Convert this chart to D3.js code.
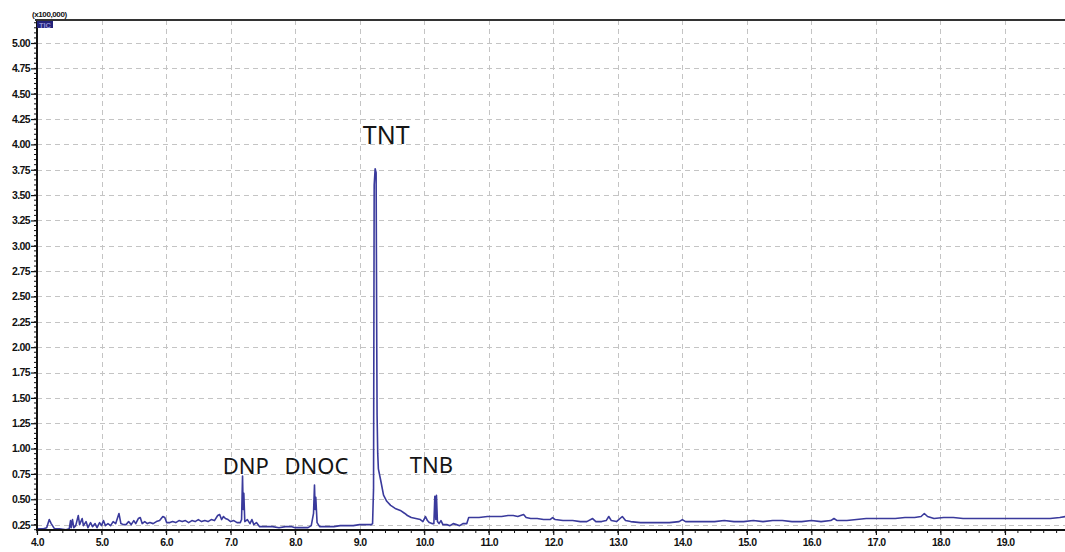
<!DOCTYPE html>
<html>
<head>
<meta charset="utf-8">
<script src="https://cdn.jsdelivr.net/npm/d3@7"></script>
<style>
  html, body { margin: 0; padding: 0; background: #ffffff; }
  svg { display: block; }
</style>
</head>
<body>
<svg id="chart" width="1065" height="552"></svg>
<script>
// ---- data ----
const retentionTimes = [
  4.00, 4.05, 4.10, 4.15, 4.19, 4.22, 4.27, 4.35, 4.45, 4.50,
  4.52, 4.53, 4.55, 4.57, 4.60, 4.64, 4.66, 4.70, 4.72, 4.76,
  4.79, 4.83, 4.86, 4.90, 4.93, 4.97, 5.00, 5.03, 5.06, 5.10,
  5.14, 5.18, 5.22, 5.27, 5.30, 5.34, 5.38, 5.42, 5.46, 5.50,
  5.53, 5.57, 5.60, 5.63, 5.67, 5.71, 5.75, 5.80, 5.85, 5.90,
  5.95, 5.98, 6.01, 6.06, 6.10, 6.15, 6.20, 6.25, 6.30, 6.35,
  6.40, 6.45, 6.50, 6.55, 6.60, 6.65, 6.70, 6.75, 6.80, 6.83,
  6.86, 6.89, 6.92, 6.96, 7.00, 7.05, 7.10, 7.15, 7.17, 7.185,
  7.195, 7.205, 7.22, 7.26, 7.30, 7.33, 7.36, 7.40, 7.45, 7.55,
  7.65, 7.75, 7.85, 7.95, 8.00, 8.10, 8.20, 8.25, 8.285, 8.30,
  8.31, 8.32, 8.34, 8.38, 8.50, 8.60, 8.70, 8.80, 8.90, 9.00,
  9.10, 9.18, 9.20, 9.215, 9.225, 9.24, 9.255, 9.265, 9.27, 9.28,
  9.29, 9.325, 9.37, 9.42, 9.48, 9.55, 9.63, 9.70, 9.74, 9.80,
  9.87, 9.94, 9.98, 10.02, 10.05, 10.08, 10.12, 10.15, 10.165, 10.18,
  10.19, 10.205, 10.23, 10.26, 10.29, 10.35, 10.40, 10.45, 10.50, 10.55,
  10.60, 10.66, 10.69, 10.75, 10.85, 10.98, 11.10, 11.20, 11.30, 11.38,
  11.45, 11.54, 11.58, 11.65, 11.75, 11.85, 11.95, 11.99, 12.03, 12.15,
  12.30, 12.42, 12.52, 12.61, 12.66, 12.75, 12.82, 12.86, 12.90, 12.98,
  13.07, 13.12, 13.20, 13.35, 13.50, 13.65, 13.80, 13.95, 14.00, 14.05,
  14.20, 14.35, 14.50, 14.65, 14.80, 14.95, 15.10, 15.25, 15.40, 15.55,
  15.70, 15.85, 16.00, 16.15, 16.30, 16.35, 16.40, 16.55, 16.70, 16.85,
  17.00, 17.15, 17.30, 17.45, 17.60, 17.70, 17.75, 17.80, 17.90, 18.05,
  18.20, 18.35, 18.50, 18.65, 18.80, 18.95, 19.10, 19.25, 19.40, 19.55,
  19.70, 19.85, 19.94
];
const intensities = [
  0.21, 0.21, 0.21, 0.22, 0.30, 0.26, 0.21, 0.21, 0.20, 0.21,
  0.29, 0.22, 0.30, 0.22, 0.24, 0.34, 0.25, 0.31, 0.24, 0.28,
  0.22, 0.27, 0.23, 0.26, 0.22, 0.27, 0.24, 0.29, 0.24, 0.26,
  0.24, 0.28, 0.26, 0.36, 0.26, 0.25, 0.25, 0.28, 0.25, 0.29,
  0.26, 0.31, 0.32, 0.26, 0.28, 0.26, 0.27, 0.26, 0.28, 0.29,
  0.33, 0.32, 0.27, 0.27, 0.28, 0.27, 0.29, 0.28, 0.29, 0.27,
  0.29, 0.28, 0.30, 0.28, 0.29, 0.28, 0.30, 0.29, 0.34, 0.35,
  0.30, 0.33, 0.31, 0.30, 0.28, 0.29, 0.27, 0.27, 0.30, 0.73,
  0.40, 0.56, 0.28, 0.30, 0.26, 0.30, 0.25, 0.27, 0.23, 0.23,
  0.23, 0.22, 0.23, 0.23, 0.22, 0.22, 0.22, 0.24, 0.36, 0.64,
  0.40, 0.52, 0.27, 0.23, 0.23, 0.23, 0.24, 0.24, 0.24, 0.25,
  0.25, 0.25, 0.26, 0.60, 3.60, 3.76, 3.72, 2.00, 1.33, 0.95,
  0.80, 0.69, 0.54, 0.48, 0.44, 0.41, 0.39, 0.36, 0.34, 0.32,
  0.31, 0.30, 0.28, 0.33, 0.29, 0.27, 0.26, 0.26, 0.53, 0.30,
  0.54, 0.28, 0.26, 0.29, 0.25, 0.25, 0.24, 0.26, 0.25, 0.24,
  0.26, 0.26, 0.32, 0.32, 0.32, 0.33, 0.33, 0.33, 0.34, 0.34,
  0.33, 0.35, 0.32, 0.31, 0.31, 0.30, 0.30, 0.32, 0.30, 0.29,
  0.29, 0.28, 0.28, 0.31, 0.28, 0.28, 0.29, 0.33, 0.29, 0.28,
  0.33, 0.29, 0.28, 0.27, 0.27, 0.27, 0.27, 0.28, 0.30, 0.28,
  0.28, 0.28, 0.28, 0.29, 0.28, 0.28, 0.29, 0.28, 0.29, 0.29,
  0.28, 0.28, 0.29, 0.28, 0.29, 0.31, 0.29, 0.29, 0.30, 0.31,
  0.31, 0.31, 0.31, 0.32, 0.32, 0.33, 0.36, 0.33, 0.31, 0.32,
  0.32, 0.31, 0.31, 0.31, 0.31, 0.31, 0.31, 0.31, 0.31, 0.31,
  0.31, 0.32, 0.33
];
const yTickValues = [0.25, 0.50, 0.75, 1.00, 1.25, 1.50, 1.75, 2.00, 2.25, 2.50,
  2.75, 3.00, 3.25, 3.50, 3.75, 4.00, 4.25, 4.50, 4.75, 5.00];
const xTickValues = [4, 5, 6, 7, 8, 9, 10, 11, 12, 13, 14, 15, 16, 17, 18, 19];
const peakNames = ["DNP", "DNOC", "TNT", "TNB"];
const peakTimes = [7.19, 8.30, 9.24, 10.19];
const peakHeights = [0.73, 0.64, 3.76, 0.54];
const yUnitLabel = "(x100,000)";
const traceLabel = "TIC";

// ---- layout ----
const svg = d3.select("#chart");
const plotL = 37, plotR = 1065, plotT = 20, plotB = 530;

const x = d3.scaleLinear().domain([4.0, 19.93]).range([plotL, plotR]);
const y = d3.scaleLinear().domain([0.197, 5.227]).range([plotB, plotT]);

// gridlines
const grid = svg.append("g");
grid.selectAll("line.h").data(yTickValues).enter().append("line")
  .attr("x1", plotL).attr("x2", plotR)
  .attr("y1", d => Math.round(y(d)) + 0.5).attr("y2", d => Math.round(y(d)) + 0.5)
  .attr("stroke", "#c4c4c4").attr("stroke-width", 1).attr("stroke-dasharray", "5,4");
grid.selectAll("line.v").data(xTickValues.filter(d => d > 4)).enter().append("line")
  .attr("y1", plotT).attr("y2", plotB)
  .attr("x1", d => Math.round(x(d)) + 0.5).attr("x2", d => Math.round(x(d)) + 0.5)
  .attr("stroke", "#c4c4c4").attr("stroke-width", 1).attr("stroke-dasharray", "5,4");

// trace
const pts = retentionTimes.map((t, i) => [t, intensities[i]]);
const line = d3.line().x(d => x(d[0])).y(d => y(d[1])).curve(d3.curveLinear);
svg.append("path").datum(pts)
  .attr("d", line)
  .attr("fill", "none")
  .attr("stroke", "#3a3a9c")
  .attr("stroke-width", 1.6)
  .attr("stroke-linejoin", "round");

// axes
const tickFont = "'Liberation Sans', Arial, sans-serif";
const yAxis = d3.axisLeft(y).tickValues(yTickValues).tickFormat(d3.format(".2f")).tickSize(6).tickPadding(1);
const gy = svg.append("g").attr("transform", `translate(${plotL},0)`).call(yAxis);
gy.select(".domain").remove();
gy.selectAll("text").attr("font-family", tickFont).attr("font-weight", "bold")
  .attr("font-size", 10.5).attr("letter-spacing", "-0.6").attr("fill", "#111");
gy.selectAll(".tick line").attr("stroke", "#111").attr("stroke-width", 1.2);

const yMinor = d3.range(0.20, 5.23, 0.05).map(v => +v.toFixed(2));
svg.append("g").selectAll("line").data(yMinor).enter().append("line")
  .attr("x1", plotL - 3).attr("x2", plotL)
  .attr("y1", d => y(d)).attr("y2", d => y(d))
  .attr("stroke", "#111").attr("stroke-width", 1);

const xAxis = d3.axisBottom(x).tickValues(xTickValues).tickFormat(d3.format(".1f")).tickSize(5).tickPadding(4);
const gx = svg.append("g").attr("transform", `translate(0,${plotB})`).call(xAxis);
gx.select(".domain").remove();
gx.selectAll("text").attr("font-family", tickFont).attr("font-weight", "bold")
  .attr("font-size", 10.5).attr("letter-spacing", "-0.6").attr("fill", "#111");
gx.selectAll(".tick line").attr("stroke", "#111").attr("stroke-width", 1.2);

const xMinor = d3.range(4.0, 19.95, 0.2).map(v => +v.toFixed(1));
svg.append("g").selectAll("line").data(xMinor).enter().append("line")
  .attr("y1", plotB).attr("y2", plotB + 3)
  .attr("x1", d => x(d)).attr("x2", d => x(d))
  .attr("stroke", "#111").attr("stroke-width", 1);

// frame lines
svg.append("line").attr("x1", plotL).attr("x2", plotL).attr("y1", plotT - 1).attr("y2", plotB + 1)
  .attr("stroke", "#111").attr("stroke-width", 2);
svg.append("line").attr("x1", plotL - 1).attr("x2", plotR).attr("y1", plotB).attr("y2", plotB)
  .attr("stroke", "#111").attr("stroke-width", 2);
svg.append("line").attr("x1", plotL - 2).attr("x2", plotR).attr("y1", plotT).attr("y2", plotT)
  .attr("stroke", "#333").attr("stroke-width", 2);

// unit label & trace label
svg.append("text").attr("x", 32).attr("y", 17).text(yUnitLabel)
  .attr("font-family", tickFont).attr("font-weight", "bold").attr("font-size", 8)
  .attr("letter-spacing", "-0.4").attr("fill", "#111");
svg.append("rect").attr("x", 37).attr("y", 21).attr("width", 16).attr("height", 7).attr("fill", "#22227a");
svg.append("text").attr("x", 45).attr("y", 27.5).attr("text-anchor", "middle").text(traceLabel)
  .attr("font-family", tickFont).attr("font-weight", "bold").attr("font-size", 7.5)
  .attr("fill", "#8f8fd6");

// peak annotations
const labelFont = "'Noto Sans', 'Open Sans', sans-serif";
const labelDx = { DNP: 3, DNOC: 2, TNT: 11, TNB: -5 };
const labelY = { DNP: 474, DNOC: 474, TNT: 144, TNB: 473 };
const labelSize = { DNP: 22, DNOC: 22, TNT: 25, TNB: 22 };
svg.append("g").selectAll("text").data(peakNames).enter().append("text")
  .attr("x", (d, i) => x(peakTimes[i]) + labelDx[d])
  .attr("y", d => labelY[d])
  .attr("text-anchor", "middle")
  .attr("font-family", labelFont)
  .attr("font-size", d => labelSize[d])
  .attr("fill", "#151515")
  .text(d => d);
</script>
</body>
</html>
